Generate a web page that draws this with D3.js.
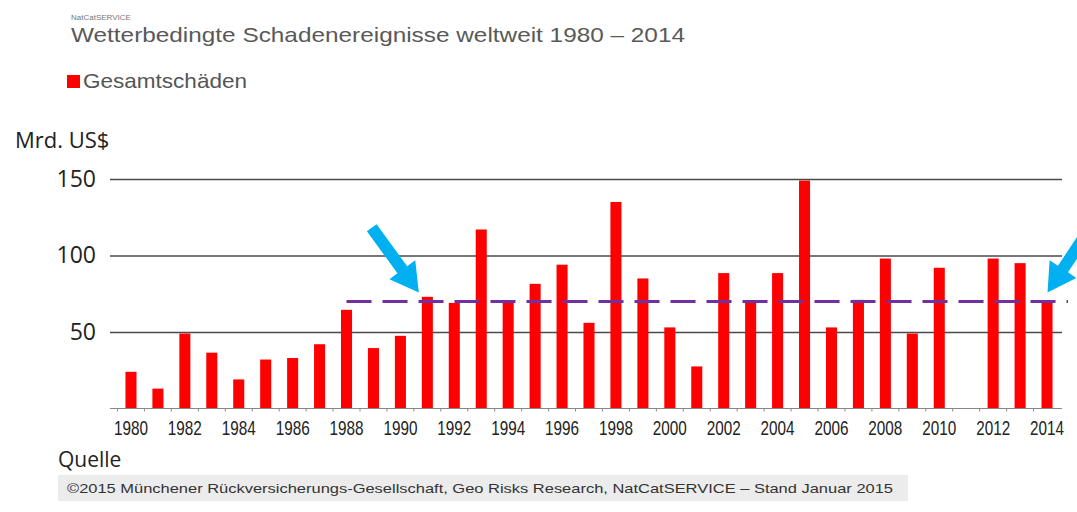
<!DOCTYPE html>
<html>
<head>
<meta charset="utf-8">
<script src="https://cdn.jsdelivr.net/npm/d3@7"></script>
<style>
  body { margin: 0; background: #fff; }
  svg { display: block; }
</style>
</head>
<body>
<script>
// Wetterbedingte Schadenereignisse weltweit, Gesamtschaeden in Mrd. US$
var years = [1980,1981,1982,1983,1984,1985,1986,1987,1988,1989,
             1990,1991,1992,1993,1994,1995,1996,1997,1998,1999,
             2000,2001,2002,2003,2004,2005,2006,2007,2008,2009,
             2010,2011,2012,2013,2014];
var losses = [24,13,49,36.5,19,32,33,42,64.5,39.5,
              47.5,73,69,117,69,81.5,94,56,135,85,
              53,27.5,88.5,69,88.5,149,53,71,98,49,
              92,0,98,95,69];
var yTicks = [50,100,150];
var yearLabels = [1980,1982,1984,1986,1988,1990,1992,1994,1996,1998,
                  2000,2002,2004,2006,2008,2010,2012,2014];
var avgValue = 70;
var avgFrom = 1988;
var arrowYears = [1991, 2014];

var W = 1077, H = 512;
var gridLeft = 110, gridRight = 1062;
var base = 408.5, top150 = 179;

var svg = d3.select("body").append("svg").attr("width", W).attr("height", H);

var x = d3.scaleBand().domain(years).range([117.5, 1060.5])
    .paddingInner(0.59).paddingOuter(0.295);
var y = d3.scaleLinear().domain([0, 150]).range([base, top150]);

// header
svg.append("text").attr("x", 71).attr("y", 20)
    .style("font-family", "Liberation Sans, Arial, sans-serif").style("font-size", "8px")
    .attr("fill", "#777").text("NatCatSERVICE");
svg.append("text").attr("x", 71).attr("y", 42)
    .attr("textLength", 614).attr("lengthAdjust", "spacingAndGlyphs")
    .style("font-family", "Liberation Sans, Arial, sans-serif").style("font-size", "21px")
    .attr("fill", "#595959").text("Wetterbedingte Schadenereignisse weltweit 1980 \u2013 2014");

// legend
svg.append("rect").attr("x", 67).attr("y", 75).attr("width", 13).attr("height", 13).attr("fill", "#ff0000");
svg.append("text").attr("x", 83).attr("y", 88)
    .attr("textLength", 164).attr("lengthAdjust", "spacingAndGlyphs")
    .style("font-family", "Liberation Sans, Arial, sans-serif").style("font-size", "21px")
    .attr("fill", "#555").text("Gesamtsch\u00e4den");

svg.append("text").attr("x", 15).attr("y", 148)
    .style("font-family", "Open Sans, sans-serif").style("font-size", "22px")
    .attr("fill", "#222").text("Mrd. US$");

// y gridlines + labels
var yAxis = svg.append("g").attr("transform", "translate(" + gridLeft + ",0)")
    .call(d3.axisLeft(y).tickValues(yTicks).tickSize(-(gridRight - gridLeft)).tickPadding(14));
yAxis.select(".domain").remove();
yAxis.selectAll(".tick line").attr("stroke", "#4a4a4a").attr("stroke-width", 1.6);
yAxis.selectAll(".tick text")
    .style("font-family", "Open Sans, sans-serif").style("font-size", "23px")
    .attr("fill", "#222");

// bars
svg.append("g").selectAll("rect").data(losses).enter().append("rect")
    .attr("x", function (d, i) { return x(years[i]); })
    .attr("y", function (d) { return y(d); })
    .attr("width", x.bandwidth())
    .attr("height", function (d) { return base - y(d); })
    .attr("fill", "#ff0000");

// x baseline with small ticks between bars
var step = x.step();
var xTicks = svg.append("g").attr("transform", "translate(" + (-step / 2) + "," + base + ")")
    .call(d3.axisBottom(x).tickFormat("").tickSize(3));
xTicks.select(".domain").remove();
xTicks.selectAll(".tick line").attr("stroke", "#888");
svg.append("line").attr("x1", gridLeft).attr("x2", gridRight)
    .attr("y1", base).attr("y2", base).attr("stroke", "#888").attr("stroke-width", 1.2);

var xAxis = svg.append("g").attr("transform", "translate(0," + base + ")")
    .call(d3.axisBottom(x).tickValues(yearLabels).tickSize(0).tickPadding(12));
xAxis.select(".domain").remove();
xAxis.selectAll(".tick text")
    .attr("textLength", 34).attr("lengthAdjust", "spacingAndGlyphs")
    .style("font-family", "Liberation Sans Narrow, Arial Narrow, Liberation Sans, sans-serif")
    .style("font-size", "21px").attr("fill", "#222");

// average line
svg.append("line")
    .attr("x1", x(avgFrom) + x.bandwidth() / 2).attr("x2", gridRight + 6)
    .attr("y1", y(avgValue)).attr("y2", y(avgValue))
    .attr("stroke", "#7030a0").attr("stroke-width", 3)
    .attr("stroke-dasharray", "25,11");

// arrows
function arrow(tx, ty, dx, dy, len) {
    var n = Math.sqrt(dx * dx + dy * dy);
    var ux = dx / n, uy = dy / n, px = -uy, py = ux;
    var hl = 28, hw = 16, sw = 6;
    var bx = tx - ux * hl, by = ty - uy * hl;
    var sx = tx - ux * len, sy = ty - uy * len;
    var pts = [
        [sx + px * sw, sy + py * sw], [bx + px * sw, by + py * sw],
        [bx + px * hw, by + py * hw], [tx, ty],
        [bx - px * hw, by - py * hw], [bx - px * sw, by - py * sw],
        [sx - px * sw, sy - py * sw]
    ];
    svg.append("path").attr("d", "M" + pts.join("L") + "Z").attr("fill", "#00b0f0");
}
arrow(x(arrowYears[0]) - 3, y(avgValue) - 9, 0.59, 0.81, 80);
arrow(x(arrowYears[1]) + 6, y(avgValue) - 9, -0.55, 0.83, 85);

// source
svg.append("text").attr("x", 58).attr("y", 467)
    .style("font-family", "Open Sans, sans-serif").style("font-size", "21px")
    .attr("fill", "#222").text("Quelle");
svg.append("rect").attr("x", 58).attr("y", 475).attr("width", 850).attr("height", 26).attr("fill", "#ececec");
svg.append("text").attr("x", 67).attr("y", 493)
    .attr("textLength", 826).attr("lengthAdjust", "spacingAndGlyphs")
    .style("font-family", "Liberation Sans, Arial, sans-serif").style("font-size", "13px")
    .attr("fill", "#333")
    .text("\u00a92015 M\u00fcnchener R\u00fcckversicherungs-Gesellschaft, Geo Risks Research, NatCatSERVICE \u2013 Stand Januar 2015");
</script>
</body>
</html>
